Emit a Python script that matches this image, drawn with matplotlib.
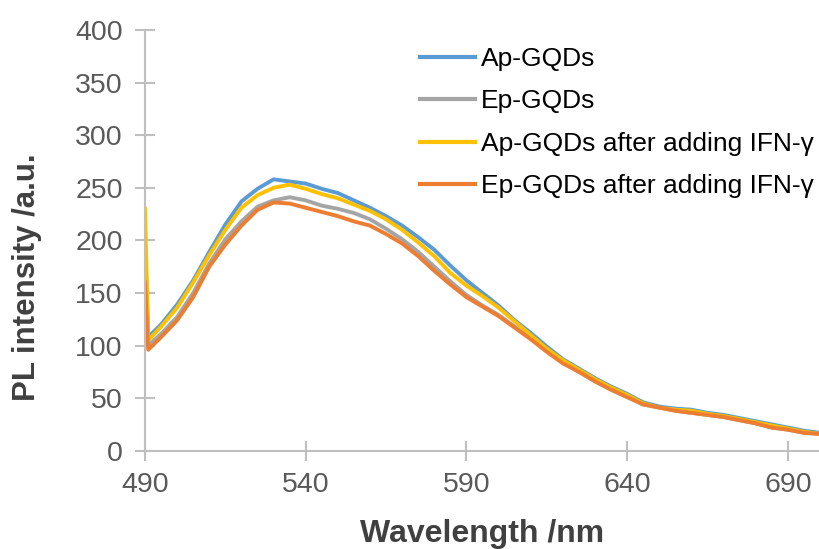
import matplotlib
matplotlib.use("Agg")
import matplotlib.pyplot as plt

plt.rcParams['font.family'] = ['Liberation Sans', 'DejaVu Sans']

wavelength = [490, 491, 495, 500, 505, 510, 515, 520, 525, 530, 535, 540, 545, 550,
              555, 560, 565, 570, 575, 580, 585, 590, 595, 600, 605, 610, 615, 620,
              625, 630, 635, 640, 645, 650, 655, 660, 665, 670, 675, 680, 685, 690,
              695, 700]

ap_gqds = [200, 108, 120, 139, 162, 189, 215, 237, 249, 258, 256, 254, 249, 245,
           238, 231, 223, 214, 203, 191, 176, 162, 150, 138, 124, 112, 99, 87,
           78, 69, 61, 54, 46, 42, 40, 39, 36, 34, 31, 28, 25, 22, 19, 17]

ep_gqds = [170, 100, 111, 127, 150, 178, 201, 218, 232, 238, 241, 238, 233, 230,
           226, 220, 211, 201, 189, 175, 161, 148, 138, 129, 118, 107, 95, 84,
           75, 66, 58, 51, 44, 41, 38, 36, 34, 32, 29, 26, 22, 20, 17, 16]

ap_ifn = [230, 105, 118, 136, 160, 186, 210, 231, 243, 250, 253, 249, 244, 240,
          234, 228, 220, 210, 198, 185, 169, 157, 147, 136, 123, 110, 97, 86,
          77, 68, 60, 53, 45, 41, 39, 38, 35, 33, 30, 27, 24, 21, 18, 16]

ep_ifn = [160, 96, 108, 124, 146, 175, 196, 214, 229, 236, 235, 231, 227, 223,
          218, 214, 206, 197, 185, 171, 158, 146, 137, 128, 117, 106, 94, 83,
          75, 66, 58, 51, 44, 41, 38, 36, 34, 32, 29, 26, 22, 20, 17, 16]

series = [
    ("Ap-GQDs", ap_gqds, "#5B9BD5"),
    ("Ep-GQDs", ep_gqds, "#A5A5A5"),
    ("Ap-GQDs after adding IFN-γ", ap_ifn, "#FFC000"),
    ("Ep-GQDs after adding IFN-γ", ep_ifn, "#ED7D31"),
]

fig = plt.figure(figsize=(8.2, 5.49), dpi=100)
ax = fig.add_axes([145/820, 98.3/549, 675/820, 420.7/549])

for name, vals, col in series:
    ax.plot(wavelength, vals, color=col, lw=2.8, label=name, solid_joinstyle='round')

ax.set_xlim(490, 700)
ax.set_ylim(0, 400)
ax.set_xticks([490, 540, 590, 640, 690])
ax.set_yticks(range(0, 401, 50))

for s in ['top', 'right']:
    ax.spines[s].set_visible(False)
for s in ['left', 'bottom']:
    ax.spines[s].set_color('#BFBFBF')
    ax.spines[s].set_linewidth(1.5)

ax.tick_params(axis='both', direction='inout', length=14, width=1.5, color='#BFBFBF',
               labelsize=20.5, labelcolor='#595959')
ax.tick_params(axis='y', pad=9)
ax.tick_params(axis='x', pad=8)

ax.set_xlabel("Wavelength /nm", fontsize=23, fontweight='bold', color='#404040')
ax.set_ylabel("PL intensity /a.u.", fontsize=22.5, fontweight='bold', color='#404040')
ax.xaxis.set_label_coords(0.5, -0.162)
ax.yaxis.set_label_coords(-0.152, 0.413)

leg = ax.legend(loc='upper left', bbox_to_anchor=(420/820, 1 - 47/549),
                bbox_transform=fig.transFigure, frameon=False, fontsize=19,
                handlelength=2.1, handletextpad=0.2, labelspacing=0.7,
                borderaxespad=0, borderpad=0)
for line in leg.get_lines():
    line.set_linewidth(3)

fig.savefig("out.png", dpi=100)
